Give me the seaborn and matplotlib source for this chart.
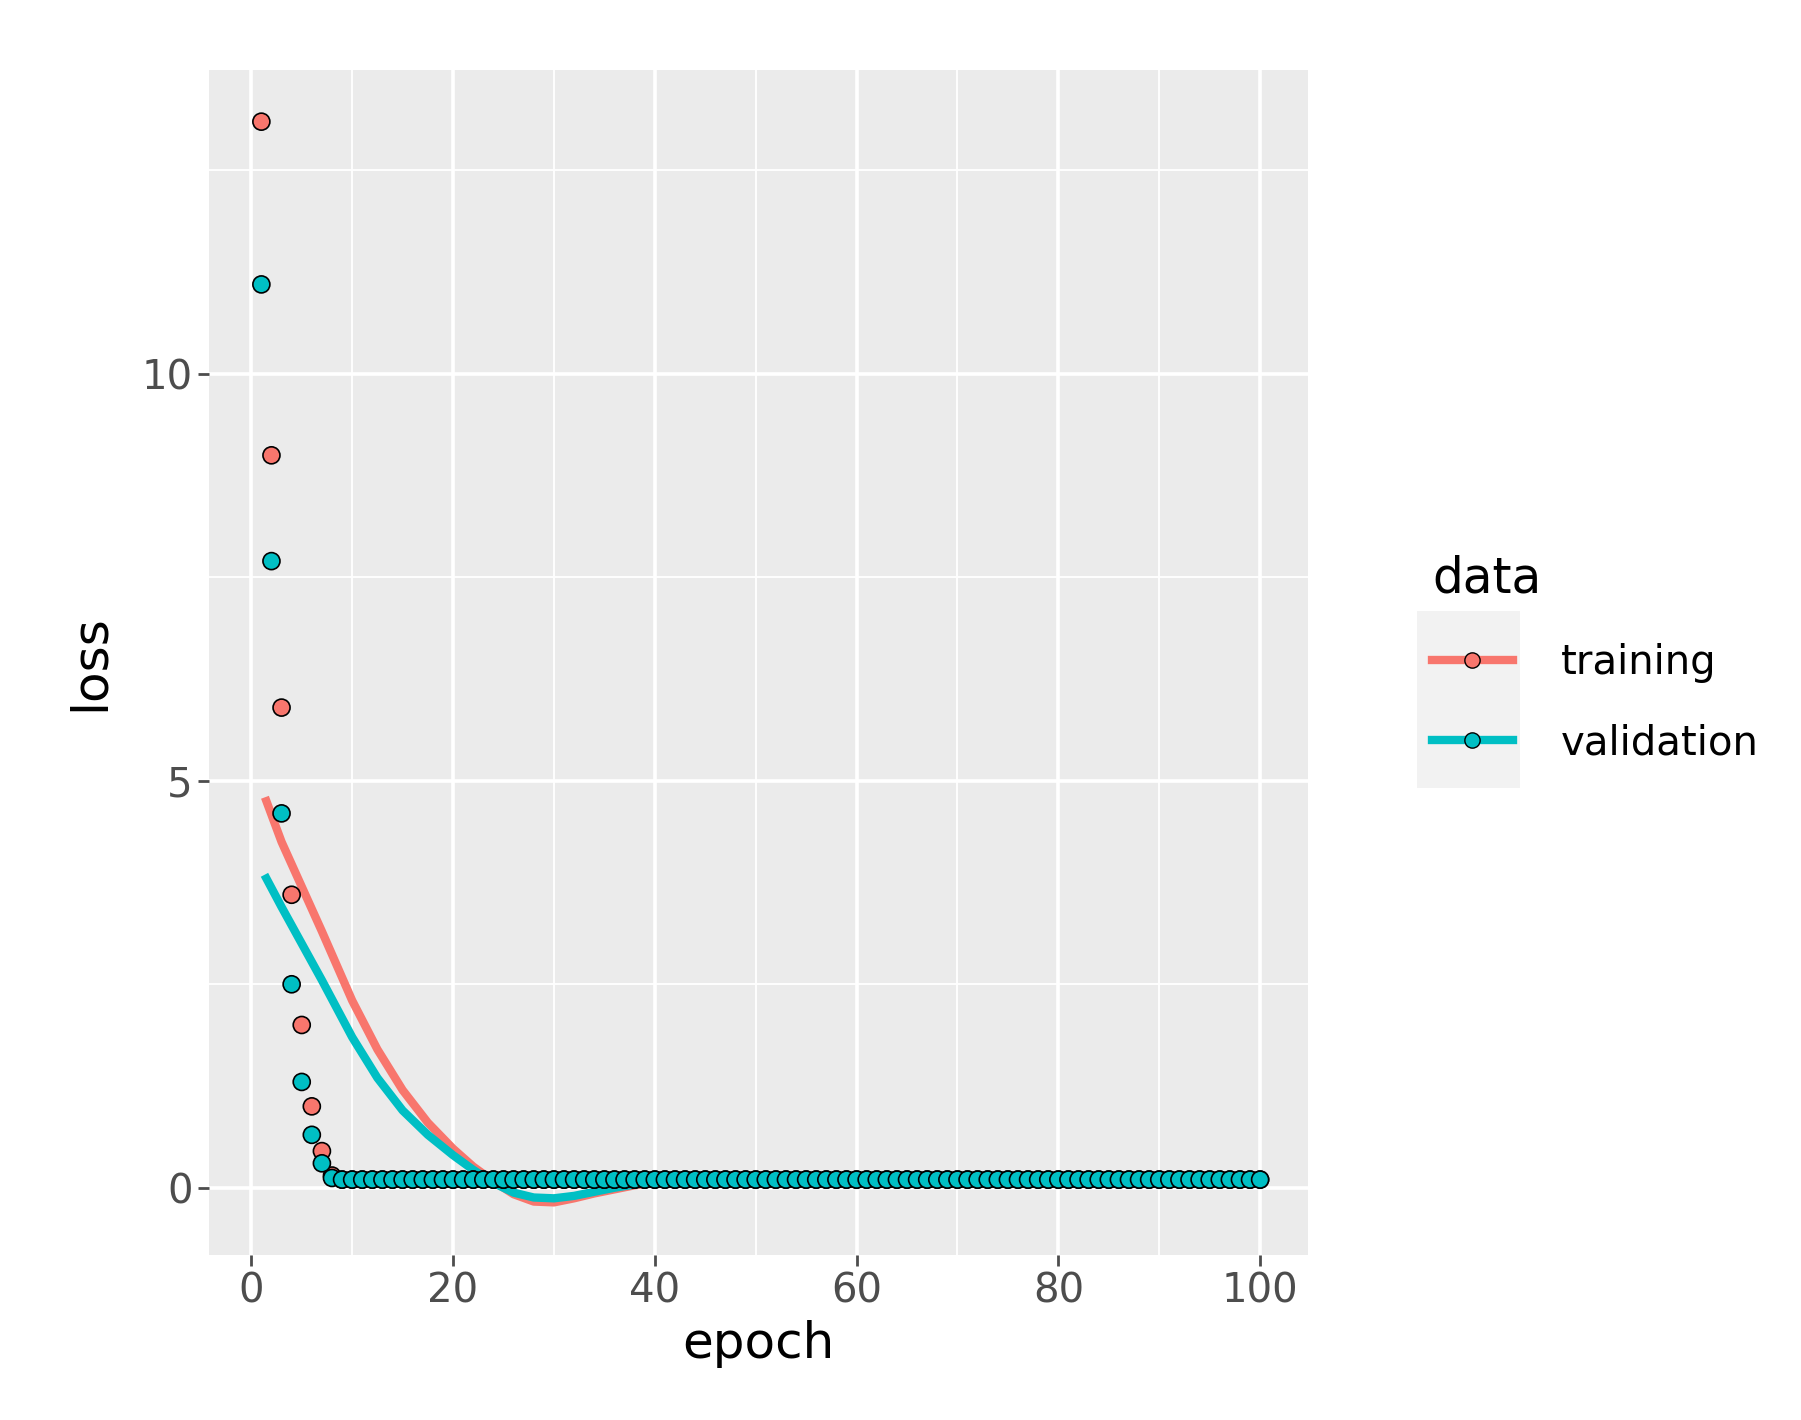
import matplotlib
matplotlib.use("Agg")
import matplotlib.pyplot as plt
from matplotlib.lines import Line2D
from matplotlib.patches import Rectangle
import seaborn as sns
import numpy as np
import pandas as pd

# ── data ─────────────────────────────────────
epochs = list(range(1, 101))
train_loss = [13.1, 9.0, 5.9, 3.6, 2.0, 1.0, 0.45, 0.15] + [0.1] * 92
val_loss = [11.1, 7.7, 4.6, 2.5, 1.3, 0.65, 0.3, 0.12] + [0.1] * 92

# loess curves
smooth_epochs = [1.5, 3, 5, 7, 10, 12.5, 15, 17.5, 20, 22, 24, 26, 28, 30, 32, 34, 36, 38, 40,
                 45, 50, 60, 70, 80, 90, 100]
train_smooth = [4.75, 4.25, 3.7, 3.15, 2.3, 1.7, 1.2, 0.8, 0.48, 0.26, 0.08, -0.08, -0.17, -0.18,
                -0.13, -0.07, -0.02, 0.03, 0.06, 0.09, 0.1, 0.1, 0.1, 0.1, 0.1, 0.1]
val_smooth = [3.8, 3.45, 3.0, 2.55, 1.85, 1.35, 0.95, 0.65, 0.4, 0.22, 0.06, -0.06, -0.12, -0.13,
              -0.1, -0.05, 0.0, 0.04, 0.07, 0.09, 0.1, 0.1, 0.1, 0.1, 0.1, 0.1]

RED, TEAL = "#F8766D", "#00BFC4"

pts = pd.DataFrame({
    "epoch": epochs * 2,
    "loss": train_loss + val_loss,
    "data": ["training"] * 100 + ["validation"] * 100,
})
sm = pd.DataFrame({
    "epoch": smooth_epochs * 2,
    "loss": train_smooth + val_smooth,
    "data": ["training"] * len(smooth_epochs) + ["validation"] * len(smooth_epochs),
})

# ── plot ─────────────────────────────────────
fig = plt.figure(figsize=(18.01, 14.2), dpi=100)
ax = fig.add_axes([0.116, 0.116, 0.61, 0.835])
ax.set_facecolor("#EBEBEB")
palette = {"training": RED, "validation": TEAL}

sns.lineplot(data=sm, x="epoch", y="loss", hue="data", palette=palette,
             linewidth=6, ax=ax, legend=False, zorder=2)
sns.scatterplot(data=pts, x="epoch", y="loss", hue="data", palette=palette,
                s=150, edgecolor="black", linewidth=1.2, ax=ax, legend=False, zorder=3)

ax.set_xlim(-4.2, 104.7)
ax.set_ylim(-0.83, 13.74)
ax.set_xticks([0, 20, 40, 60, 80, 100])
ax.set_yticks([0, 5, 10])
ax.set_xticks([10, 30, 50, 70, 90], minor=True)
ax.set_yticks([2.5, 7.5, 12.5], minor=True)
ax.grid(which="major", color="white", linewidth=2.6)
ax.grid(which="minor", color="white", linewidth=1.3)
ax.set_axisbelow(True)
for s in ax.spines.values():
    s.set_visible(False)
ax.tick_params(which="major", labelsize=29, colors="#4D4D4D", length=8, width=2, labelcolor="#4D4D4D")
ax.tick_params(which="minor", length=0)
ax.set_xlabel("epoch", fontsize=36, labelpad=6)
ax.set_ylabel("loss", fontsize=36, labelpad=20)

# legend key background
fig.patches.append(Rectangle((0.787, 0.445), 0.057, 0.125, transform=fig.transFigure,
                             facecolor="#F2F2F2", edgecolor="none", zorder=0))
handles = [Line2D([0], [0], color=c, lw=6, marker="o", markersize=11,
                  markerfacecolor=c, markeredgecolor="black") for c in (RED, TEAL)]
leg = fig.legend(handles, ["training", "validation"], title="data",
                 loc="upper left", bbox_to_anchor=(0.775, 0.635), frameon=False,
                 fontsize=29, title_fontsize=35, handlelength=2.0, labelspacing=1.0,
                 handletextpad=1.2)
leg._legend_box.align = "left"

fig.savefig("out.png", dpi=100)
